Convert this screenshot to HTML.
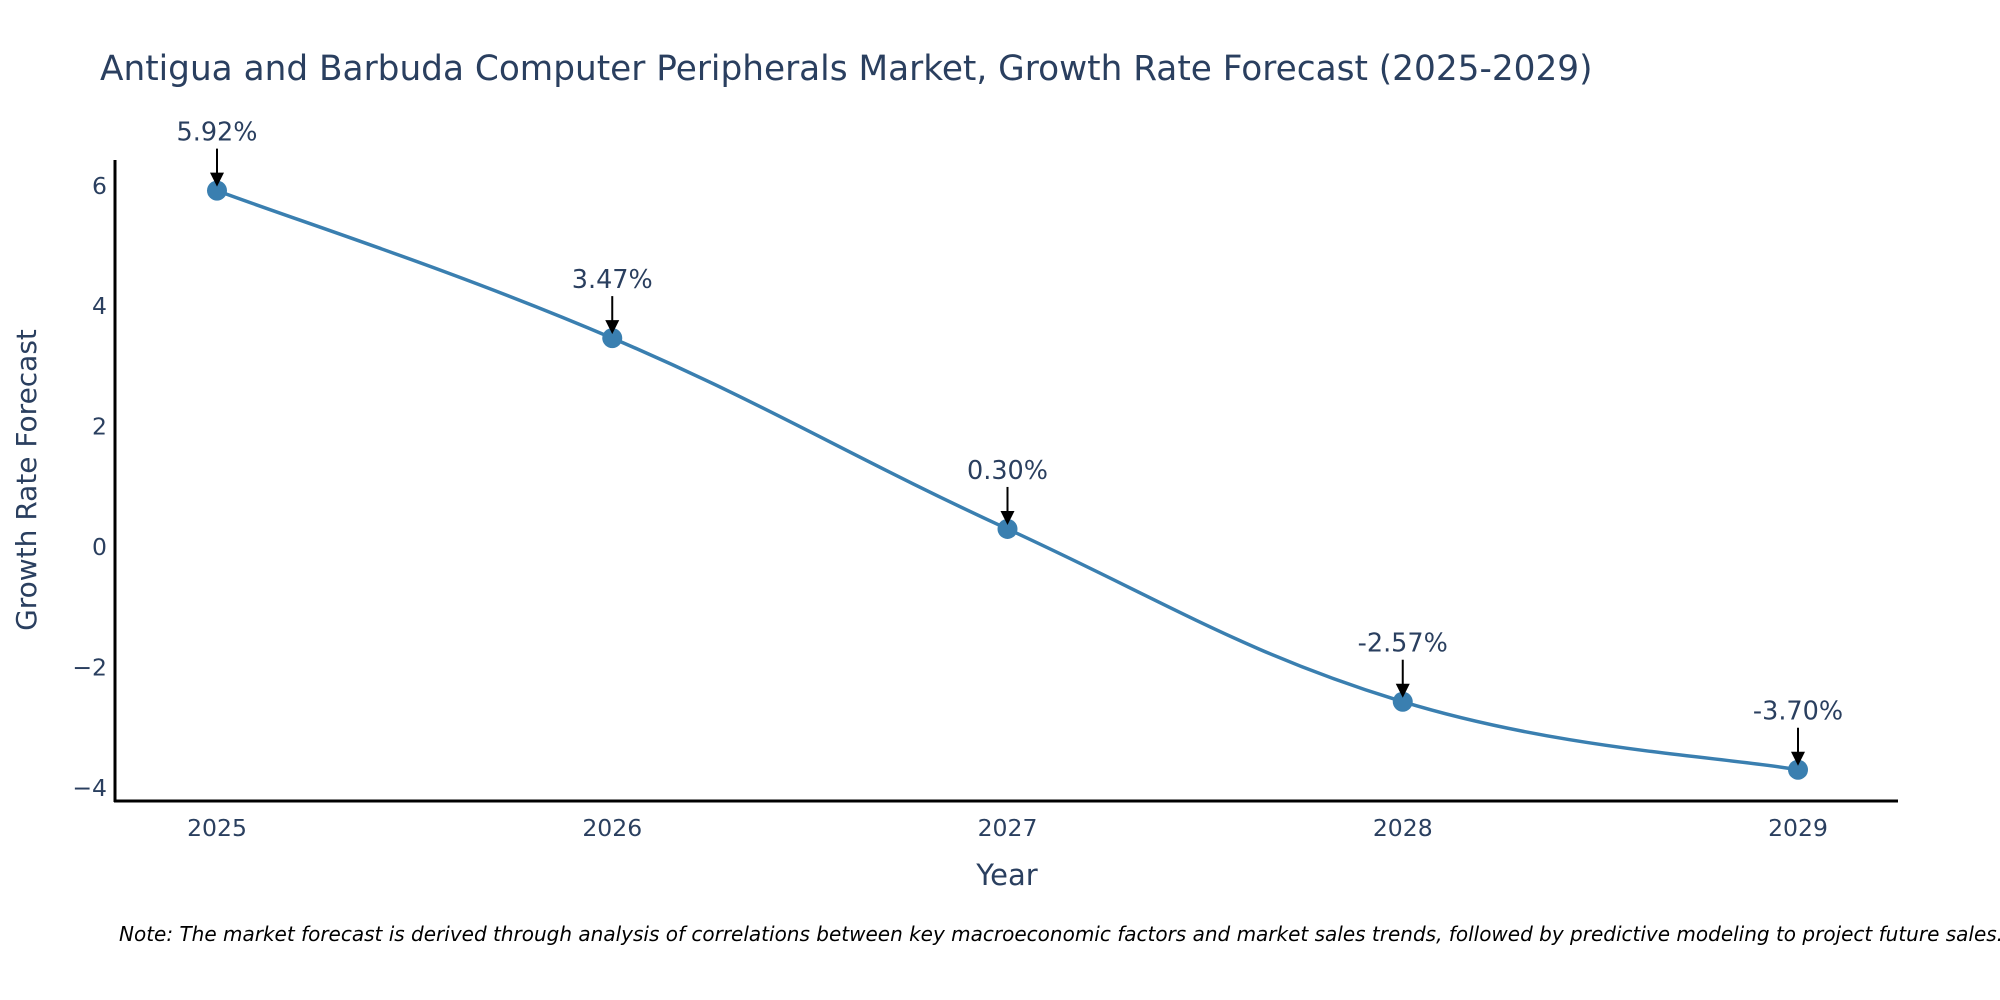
<!DOCTYPE html>
<html><head><meta charset="utf-8"><style>
body{margin:0;background:#fff;}
svg{display:block;font-family:"DejaVu Sans","Liberation Sans",sans-serif;}
</style></head><body>
<svg id="c" width="2000" height="1000">
<text x="100" y="80" font-size="34.3" fill="#2a3f5f">Antigua and Barbuda Computer Peripherals Market, Growth Rate Forecast (2025-2029)</text>
<text transform="translate(36,480) rotate(-90)" text-anchor="middle" font-size="28" fill="#2a3f5f">Growth Rate Forecast</text>
<text x="1007" y="885" text-anchor="middle" font-size="29" fill="#2a3f5f">Year</text>
<text x="119" y="941" font-size="20" font-style="italic" fill="#000">Note: The market forecast is derived through analysis of correlations between key macroeconomic factors and market sales trends, followed by predictive modeling to project future sales.</text>
<line x1="115" y1="160" x2="115" y2="802" stroke="#000" stroke-width="3"/>
<line x1="114" y1="801" x2="1898" y2="801" stroke="#000" stroke-width="3"/>
<g id="g"></g>
</svg>
<script>
const years=[2025,2026,2027,2028,2029];
const values=[5.92,3.47,0.30,-2.57,-3.70];
const labels=["5.92%","3.47%","0.30%","-2.57%","-3.70%"];
const yTicks=[-4,-2,0,2,4,6];
const yTickLabels=["\u22124","\u22122","0","2","4","6"];
const NS="http://www.w3.org/2000/svg";
const g=document.getElementById('g');
function X(v){return 217+(v-2025)*395.25;}
function Y(v){return 547-v*60.2;}
function mk(t,a){const e=document.createElementNS(NS,t);for(const k in a)e.setAttribute(k,a[k]);g.appendChild(e);return e;}
yTicks.forEach((t,i)=>{const e=mk('text',{x:107,y:Y(t)+8,'text-anchor':'end','font-size':23.5,fill:'#2a3f5f'});e.textContent=yTickLabels[i];

});
years.forEach(yr=>{const e=mk('text',{x:X(yr),y:836,'text-anchor':'middle','font-size':23.5,fill:'#2a3f5f'});e.textContent=String(yr);

});
const P=years.map((yr,i)=>[X(yr),Y(values[i])]);
let d=`M${P[0][0]},${P[0][1]}`;const s=0.2;
for(let i=0;i<P.length-1;i++){const p0=P[Math.max(i-1,0)],p1=P[i],p2=P[i+1],p3=P[Math.min(i+2,P.length-1)];
d+=` C${p1[0]+(p2[0]-p0[0])*s},${p1[1]+(p2[1]-p0[1])*s} ${p2[0]-(p3[0]-p1[0])*s},${p2[1]-(p3[1]-p1[1])*s} ${p2[0]},${p2[1]}`;}
const line=mk('path',{d:d,fill:'none',stroke:'#3a7fb0','stroke-width':3.5});


P.forEach((p,i)=>{
const c=mk('circle',{cx:p[0],cy:p[1],r:10,fill:'#3a7fb0'});


const a=mk('line',{x1:p[0],y1:p[1]-42,x2:p[0],y2:p[1]-16,stroke:'#000','stroke-width':2});


const h=mk('path',{d:`M${p[0]-7},${p[1]-18} L${p[0]+7},${p[1]-18} L${p[0]},${p[1]-4} Z`,fill:'#000'});


const t=mk('text',{x:p[0],y:p[1]-50,'text-anchor':'middle','font-size':25.5,fill:'#2a3f5f'});t.textContent=labels[i];


});
</script>
</body></html>
